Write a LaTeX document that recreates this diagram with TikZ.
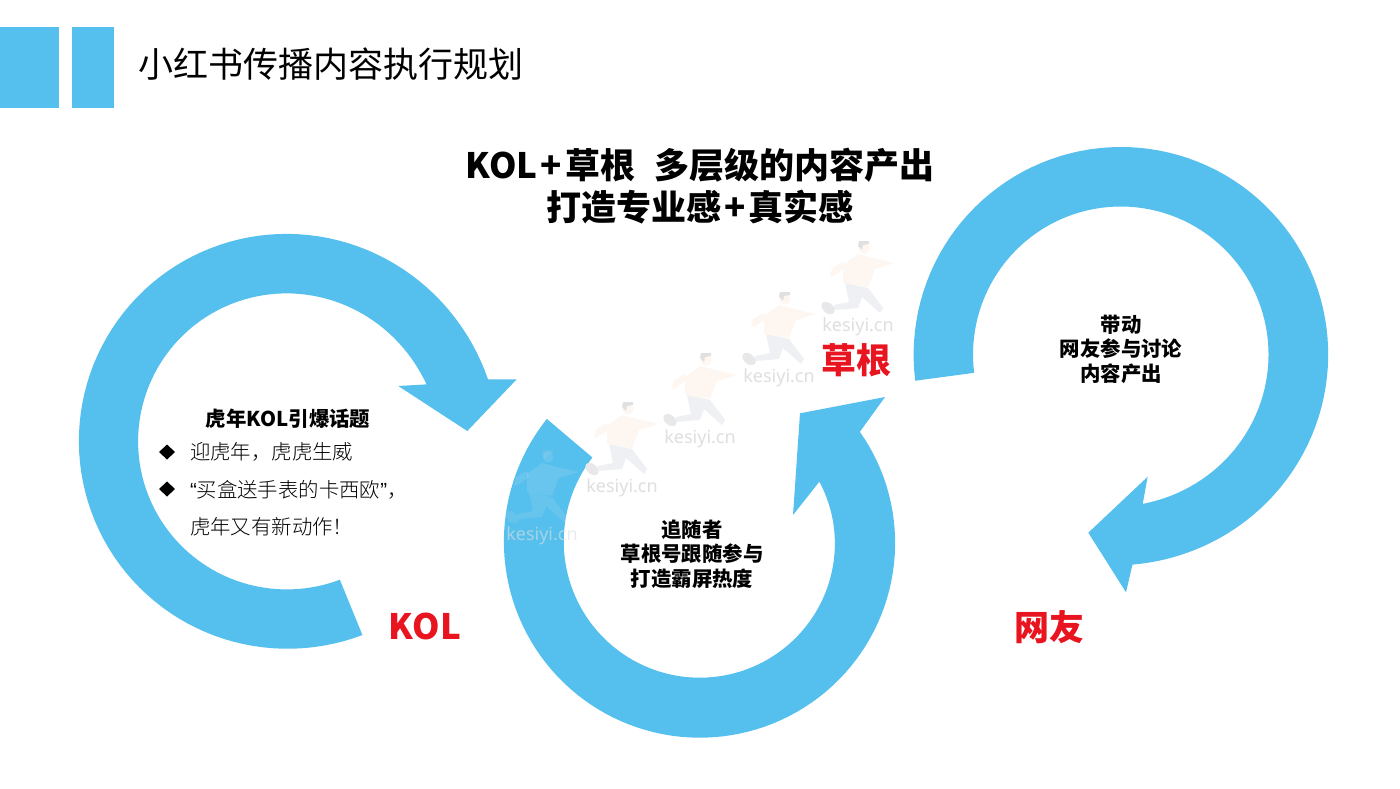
\documentclass[tikz,border=0pt]{standalone}
\usepackage{fontspec}
\setmainfont{Noto Sans CJK SC}
\newfontfamily\cjklight{Noto Sans CJK SC Light}
\newfontfamily\latinq{Liberation Sans}
\newfontfamily\markfont{Noto Sans}
\definecolor{ringblue}{HTML}{55BFED}
\definecolor{labelred}{HTML}{E8141F}
\definecolor{markgray}{HTML}{DFDFDF}
\definecolor{shirtpale}{HTML}{FEF7F1}
\definecolor{pantspale}{HTML}{EEF0F4}
\definecolor{hairpale}{HTML}{E0E0E0}
\definecolor{shoepale}{HTML}{E8E8EA}
% centre x, centre y, radius, start angle, end angle, radius offset at start, radius offset at end
\newcommand{\ringarc}[7]{plot[domain=0:1,samples=100,variable=\t]
  ({#1+(#3+(#6)*(1-\t)^8+(#7)*\t^8)*cos((#4)+((#5)-(#4))*\t)},
   {#2+(#3+(#6)*(1-\t)^8+(#7)*\t^8)*sin((#4)+((#5)-(#4))*\t)})}
\newcommand{\ringback}[7]{-- plot[domain=0:1,samples=100,variable=\t]
  ({#1+(#3+(#6)*(1-\t)^8+(#7)*\t^8)*cos((#4)+((#5)-(#4))*\t)},
   {#2+(#3+(#6)*(1-\t)^8+(#7)*\t^8)*sin((#4)+((#5)-(#4))*\t)})}
\newcommand{\runner}[4]{%
  \begin{scope}[shift={(#1,#2)},opacity=#3]
    \fill[pantspale] (-13,-44)--(10,-39)--(25,-19)--(22,-14)--(4,-30)--(0,-19)--(-24,-17)--(-24,-22)--(-9,-25)--cycle;
    \fill[shirtpale] (-15,-62)--(0,-73)--(15,-69)--(37,-64)--(17,-58)--(10,-40)--(-15,-44)--cycle;
    \fill[shirtpale] (-15,-65)--(-26,-59)--(-28,-50)--(-23,-52)--(-13,-59)--cycle;
    \fill[shirtpale] (6,-79) circle[radius=5.5];
    \fill[hairpale] (0,-81) -- (1,-86) -- (11,-86) -- (11,-83) -- (5,-82) -- (4,-77) -- cycle;
    \fill[shoepale,rotate around={-40:(-30,-19)}] (-30,-19) ellipse[x radius=7.5,y radius=5];
  \end{scope}
  \node[marktext,opacity=#4] (mark#1) at (#1,#2) {kesiyi.cn};}
\tikzset{
  basetext/.style={inner sep=0pt,outer sep=0pt,text=black},
  titletext/.style={basetext,anchor=west,font=\fontsize{17.5}{21}\selectfont},
  headtext/.style={basetext,align=center,font=\fontsize{17.5}{21}\selectfont\bfseries},
  smallhead/.style={basetext,align=center,font=\fontsize{10.2}{12.25}\selectfont\bfseries},
  bodytext/.style={basetext,anchor=west,font=\cjklight\fontsize{10.2}{12.25}\selectfont},
  redlabel/.style={basetext,text=labelred,font=\fontsize{17.5}{21}\selectfont\bfseries},
  marktext/.style={inner sep=0pt,outer sep=0pt,text=markgray,font=\markfont\fontsize{9}{10}\selectfont},
  bulletmark/.style={fill=black}
}
\begin{document}
\begin{tikzpicture}[x=0.5pt,y=-0.5pt]
\useasboundingbox (0,0) rectangle (1400,788);
\fill[white] (0,0) rectangle (1400,788);

% header blocks
\fill[ringblue] (0,27) rectangle (59,108);
\fill[ringblue] (72,27) rectangle (114,108);
\node[titletext] (title) at (138,64) {小红书传播内容执行规划};

% left ring
\fill[ringblue] \ringarc{285.6}{441}{206.7}{68.4}{343.5}{2}{5}
  -- (516.7,379.3) -- (467.3,431) -- (398.3,386)
  \ringback{285.6}{441.3}{147.5}{338}{68.2}{4.5}{1.2} -- cycle;
% middle ring
\fill[ringblue] \ringarc{699.8}{541.9}{195.8}{218.8}{-34.9}{0.5}{-1.6}
  -- (885,397) -- (800,413.3) -- (793,515)
  \ringback{699.8}{541.8}{135.9}{-26.7}{218.5}{-2.1}{0.7} -- cycle;
% right ring
\fill[ringblue] \ringarc{1121}{354}{207}{172.6}{447.3}{0.5}{4}
  -- (1126,592.3) -- (1088.3,532.7) -- (1147.7,476.7)
  \ringback{1120.8}{354}{147.5}{441.7}{172.3}{4}{0.4} -- cycle;

% watermarks
\runner{858}{327}{1}{1}
\runner{779}{378}{1}{1}
\runner{700}{439}{1}{1}
\runner{622}{488}{1}{1}
\runner{542}{536}{0.12}{0.6}

% headline
\node[headtext] (headline) at (700,186) {KOL\kern1.5pt+\kern1.5pt草根~~\kern1.5pt多层级的内容产出\\打造专业感\kern1.5pt+\kern1.5pt真实感};

% left text
\node[smallhead] (lefthead) at (288,419) {虎年KOL引爆话题};
\fill[bulletmark] (167,444.5)--(175,452)--(167,459.5)--(159,452)--cycle;
\fill[bulletmark] (167,481.5)--(175,489)--(167,496.5)--(159,489)--cycle;
\node[bodytext] (bulletone) at (190,452) {迎虎年，虎虎生威};
\node[bodytext] (bullettwo) at (190,490) {{\latinq “}买盒送手表的卡西欧{\latinq ”}，};
\node[bodytext] (bulletthree) at (190,527) {虎年又有新动作！};

% middle and right text
\node[smallhead] (midtext) at (692,554) {追随者\\草根号跟随参与\\打造霸屏热度};
\node[smallhead] (righttext) at (1121,349) {带动\\网友参与讨论\\内容产出};

% red labels
\node[redlabel] (kol) at (425,626) {KOL};
\node[redlabel] (grass) at (856,360) {草根};
\node[redlabel] (netizen) at (1049,627) {网友};
\end{tikzpicture}
\end{document}
